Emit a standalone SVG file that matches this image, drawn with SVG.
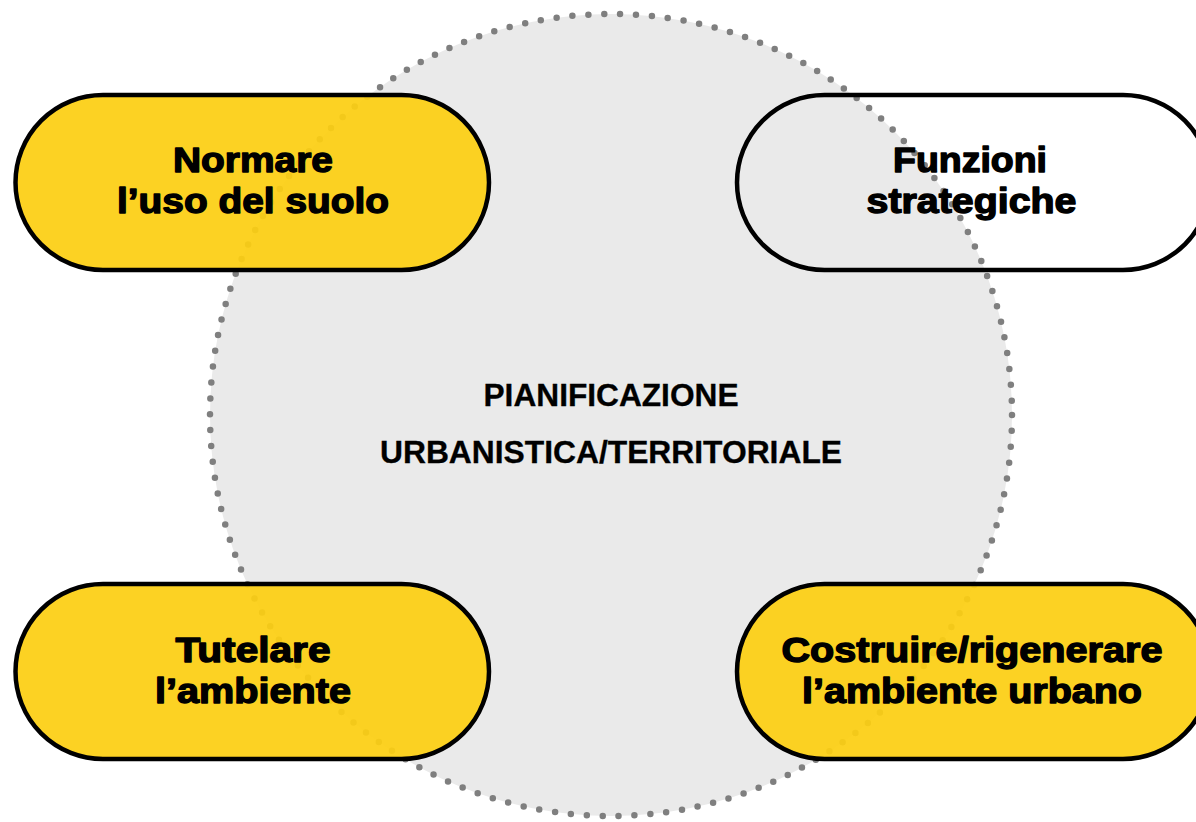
<svg xmlns="http://www.w3.org/2000/svg" width="1196" height="822" viewBox="0 0 1196 822">
<style>
.pill{stroke:#000;stroke-width:4.5}
.yel{fill:#FCCF12;fill-opacity:0.93}
.wht{fill:none}
.lbl{font-family:"Liberation Sans",Arial,sans-serif;font-weight:bold;font-size:35.5px;fill:#000;stroke:#000;stroke-width:1.4;stroke-linejoin:round;text-anchor:middle}
.ctr{font-family:"Liberation Sans",Arial,sans-serif;font-weight:bold;font-size:30.5px;fill:#000;stroke:#000;stroke-width:0.3;text-anchor:middle}
</style>
<rect width="1196" height="822" fill="#fff"/>
<g id="circle">
<circle cx="611" cy="415" r="401" fill="#EAEAEA" stroke="#7F7F7F" stroke-width="6.5" stroke-linecap="round" stroke-dasharray="0 15.95"/>
<text class="ctr" x="611" y="406" textLength="255" lengthAdjust="spacingAndGlyphs">PIANIFICAZIONE</text>
<text class="ctr" x="611" y="463" textLength="462" lengthAdjust="spacingAndGlyphs">URBANISTICA/TERRITORIALE</text>
</g>
<g id="connectors"></g>
<g id="n1">
<rect class="pill yel" x="15.5" y="95" width="473.5" height="175" rx="87.5"/>
<text class="lbl" x="253" y="171.5" textLength="160" lengthAdjust="spacingAndGlyphs">Normare</text>
<text class="lbl" x="253" y="212.5" textLength="272" lengthAdjust="spacingAndGlyphs">l’uso del suolo</text>
</g>
<g id="n2">
<rect class="pill wht" x="737" y="95" width="473.5" height="175" rx="87.5"/>
<text class="lbl" x="970" y="171.5" textLength="154" lengthAdjust="spacingAndGlyphs">Funzioni</text>
<text class="lbl" x="971.5" y="212.5" textLength="210" lengthAdjust="spacingAndGlyphs">strategiche</text>
</g>
<g id="n3">
<rect class="pill yel" x="15.5" y="584" width="473.5" height="175" rx="87.5"/>
<text class="lbl" x="253" y="661.5" textLength="155" lengthAdjust="spacingAndGlyphs">Tutelare</text>
<text class="lbl" x="253" y="702.5" textLength="196" lengthAdjust="spacingAndGlyphs">l’ambiente</text>
</g>
<g id="n4">
<rect class="pill yel" x="737" y="584" width="473.5" height="175" rx="87.5"/>
<text class="lbl" x="972" y="661.5" textLength="381" lengthAdjust="spacingAndGlyphs">Costruire/rigenerare</text>
<text class="lbl" x="972" y="703" textLength="340" lengthAdjust="spacingAndGlyphs">l’ambiente urbano</text>
</g>
</svg>
